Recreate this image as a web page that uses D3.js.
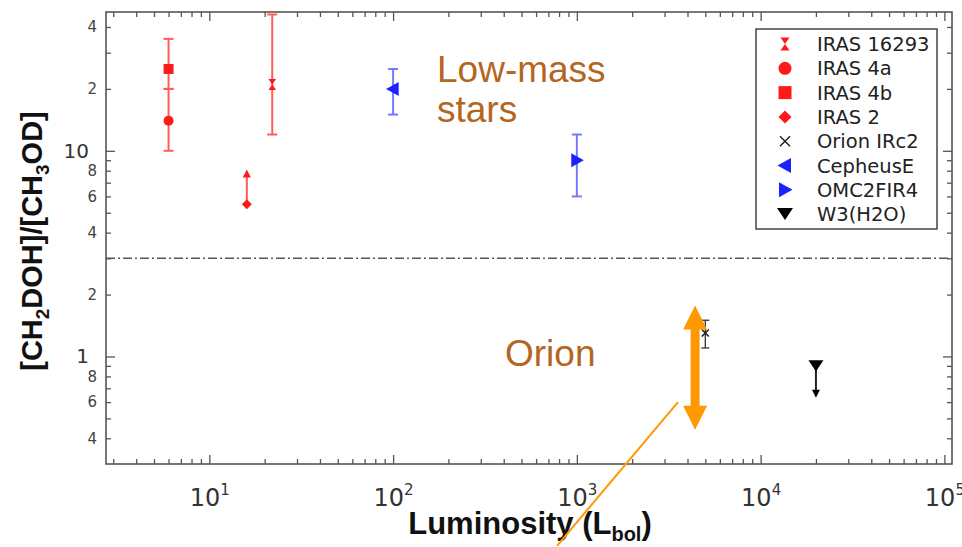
<!DOCTYPE html>
<html>
<head>
<meta charset="utf-8">
<script src="https://cdn.jsdelivr.net/npm/d3@7"></script>
<style>
  body { margin: 0; background: #fff; }
  svg { display: block; }
</style>
</head>
<body>
<div id="chart"></div>
<script>
// sources and values
const sources = ["IRAS 16293", "IRAS 4a", "IRAS 4b", "IRAS 2", "Orion IRc2", "CepheusE", "OMC2FIR4", "W3(H2O)"];
const lbol = [22, 6, 6, 16, 5000, 100, 1000, 20000];
const ratio = [21, 14, 25, 5.5, 1.3, 20, 9, 0.9];
const errLow = [12, 10, 20, null, 1.1, 15, 6, null];
const errHigh = [46, 20, 35, null, 1.5, 25, 12, null];
const limitTo = [null, null, null, 8.1, null, null, null, 0.63]; // lower / upper limit arrows

// orange annotation (Orion range + pointer)
const orionRange = [4400, 0.44, 1.77];           // L, low, high
const pointerLine = [[780, 0.12], [3550, 0.6]];

const thresholdRatio = 3;
const xMajor = [10, 100, 1000, 10000, 100000];
const yMajor = [1, 10];
const yLabeled = [0.4, 0.6, 0.8, 2, 4, 6, 8, 20, 40];

// styles
const shapes = ["hourglass", "circle", "square", "diamond", "times", "left", "right", "down"];
const fillColor = ["#ff1a1a", "#ff1a1a", "#ff1a1a", "#ff1a1a", "#222", "#1a22ff", "#1a22ff", "#000"];
const barColor = ["#ff5c5c", "#ff5c5c", "#ff5c5c", "#ff5c5c", "#333", "#7777ff", "#7777ff", "#222"];

const width = 962, height = 547;
const m = { left: 106, right: 952, top: 12, bottom: 464 };
const orange = "#ff9900";
const annColor = "#b4661f";
const axisColor = "#555";

const svg = d3.select("#chart").append("svg")
  .attr("width", width)
  .attr("height", height);

const x = d3.scaleLog().domain([2.74, 1.1e5]).range([m.left, m.right]);
const y = d3.scaleLog().domain([0.3, 47.3]).range([m.bottom, m.top]);

// all minor tick values
const minorX = [], minorY = [];
for (let e = 0; e <= 5; e++) for (let k = 2; k <= 9; k++) {
  const v = k * Math.pow(10, e);
  if (v > x.domain()[0] && v < x.domain()[1]) minorX.push(v);
}
for (let e = -1; e <= 1; e++) for (let k = 1; k <= 9; k++) {
  const v = +(k * Math.pow(10, e)).toPrecision(6);
  if (v > y.domain()[0] && v < y.domain()[1] && !yMajor.includes(v)) minorY.push(v);
}

const tickStyle = g => {
  g.select(".domain").remove();
  g.selectAll(".tick line").attr("stroke", axisColor).attr("stroke-width", 1.3);
};

// frame
svg.append("rect")
  .attr("x", m.left).attr("y", m.top)
  .attr("width", m.right - m.left).attr("height", m.bottom - m.top)
  .attr("fill", "none").attr("stroke", axisColor).attr("stroke-width", 1.6);

// bottom axis
svg.append("g").attr("transform", `translate(0,${m.bottom})`)
  .call(d3.axisBottom(x).tickValues(minorX).tickSize(-5).tickFormat(""))
  .call(tickStyle);
svg.append("g").attr("transform", `translate(0,${m.bottom})`)
  .call(d3.axisBottom(x).tickValues(xMajor).tickSize(-9))
  .call(tickStyle)
  .call(g => g.selectAll(".tick text").each(function(d) {
    const t = d3.select(this).text(null)
      .attr("y", 42).attr("dy", null)
      .attr("fill", "#333")
      .style("font-family", "'DejaVu Sans', sans-serif")
      .style("font-size", "24px");
    t.append("tspan").text("10");
    t.append("tspan").attr("dy", -11).style("font-size", "15px").text(Math.round(Math.log10(d)));
  }));

// top axis (ticks only)
svg.append("g").attr("transform", `translate(0,${m.top})`)
  .call(d3.axisTop(x).tickValues(minorX).tickSize(-5).tickFormat(""))
  .call(tickStyle);
svg.append("g").attr("transform", `translate(0,${m.top})`)
  .call(d3.axisTop(x).tickValues(xMajor).tickSize(-9).tickFormat(""))
  .call(tickStyle);

// left axis
const leadDigit = d => String(Math.round(d / Math.pow(10, Math.floor(Math.log10(d) + 1e-9))));
svg.append("g").attr("transform", `translate(${m.left},0)`)
  .call(d3.axisLeft(y).tickValues(minorY).tickSize(-5).tickPadding(9)
    .tickFormat(d => yLabeled.includes(d) ? leadDigit(d) : ""))
  .call(tickStyle)
  .call(g => g.selectAll(".tick text")
    .attr("fill", "#444")
    .style("font-family", "'DejaVu Sans', sans-serif")
    .style("font-size", "15px"));
svg.append("g").attr("transform", `translate(${m.left},0)`)
  .call(d3.axisLeft(y).tickValues(yMajor).tickSize(-9).tickPadding(17).tickFormat(d3.format("d")))
  .call(tickStyle)
  .call(g => g.selectAll(".tick text")
    .attr("fill", "#333")
    .style("font-family", "'DejaVu Sans', sans-serif")
    .style("font-size", "20px"));

// right axis (ticks only)
svg.append("g").attr("transform", `translate(${m.right},0)`)
  .call(d3.axisRight(y).tickValues(minorY).tickSize(-5).tickFormat(""))
  .call(tickStyle);
svg.append("g").attr("transform", `translate(${m.right},0)`)
  .call(d3.axisRight(y).tickValues(yMajor).tickSize(-9).tickFormat(""))
  .call(tickStyle);

// dash-dot separator
svg.append("line")
  .attr("x1", m.left).attr("x2", m.right)
  .attr("y1", y(thresholdRatio)).attr("y2", y(thresholdRatio))
  .attr("stroke", "#555").attr("stroke-width", 1.5)
  .attr("stroke-dasharray", "9,3,2,3");

// axis titles
const yTitle = svg.append("text")
  .attr("transform", "translate(42,241) rotate(-90)")
  .attr("text-anchor", "middle")
  .style("font-family", "'Liberation Sans', Arial, sans-serif")
  .style("font-weight", "bold")
  .style("font-size", "29px")
  .attr("fill", "#111");
yTitle.append("tspan").text("[CH");
yTitle.append("tspan").attr("dy", 7).style("font-size", "19px").text("2");
yTitle.append("tspan").attr("dy", -7).text("DOH]/[CH");
yTitle.append("tspan").attr("dy", 7).style("font-size", "19px").text("3");
yTitle.append("tspan").attr("dy", -7).text("OD]");

const xTitle = svg.append("text")
  .attr("x", 530).attr("y", 534)
  .attr("text-anchor", "middle")
  .style("font-family", "'Liberation Sans', Arial, sans-serif")
  .style("font-weight", "bold")
  .style("font-size", "31px")
  .attr("fill", "#111");
xTitle.append("tspan").text("Luminosity (L");
xTitle.append("tspan").attr("dy", 7).style("font-size", "20px").text("bol");
xTitle.append("tspan").attr("dy", -7).text(")");

// marker paths
function markerPath(shape, s) {
  switch (shape) {
    case "circle": return `M${-s},0A${s},${s} 0 1,0 ${s},0A${s},${s} 0 1,0 ${-s},0Z`;
    case "square": return `M${-s},${-s}H${s}V${s}H${-s}Z`;
    case "diamond": return `M0,${-s}L${s},0L0,${s}L${-s},0Z`;
    case "left": return `M${-s},0L${s * 0.8},${-s}L${s * 0.8},${s}Z`;
    case "right": return `M${s},0L${-s * 0.8},${-s}L${-s * 0.8},${s}Z`;
    case "down": return `M${-s},${-s * 0.75}L${s},${-s * 0.75}L0,${s * 0.75}Z`;
    case "hourglass": return `M${-s * 0.7},${-s}L${s * 0.7},${-s}L0,0ZM${-s * 0.7},${s}L${s * 0.7},${s}L0,0Z`;
    case "times": return `M${-s},${-s}L${s},${s}M${-s},${s}L${s},${-s}`;
  }
}
const markerSize = { circle: 5, square: 5, diamond: 5, left: 7, right: 7, down: 7.5, hourglass: 5.5, times: 3.5 };

const idx = d3.range(sources.length);
const plot = svg.append("g");

// error bars
const withErr = idx.filter(i => errLow[i] != null);
plot.selectAll(".err").data(withErr).join("g")
  .attr("class", "err")
  .attr("stroke", i => barColor[i])
  .attr("stroke-width", i => shapes[i] === "times" ? 1.3 : 2)
  .each(function(i) {
    const g = d3.select(this);
    const cx = x(lbol[i]);
    const cap = shapes[i] === "times" ? 4 : 5;
    g.append("line").attr("x1", cx).attr("x2", cx).attr("y1", y(errLow[i])).attr("y2", y(errHigh[i]));
    g.append("line").attr("x1", cx - cap).attr("x2", cx + cap).attr("y1", y(errLow[i])).attr("y2", y(errLow[i]));
    g.append("line").attr("x1", cx - cap).attr("x2", cx + cap).attr("y1", y(errHigh[i])).attr("y2", y(errHigh[i]));
  });

// limit arrows
const withLim = idx.filter(i => limitTo[i] != null);
plot.selectAll(".lim").data(withLim).join("g")
  .attr("class", "lim")
  .each(function(i) {
    const g = d3.select(this);
    const cx = x(lbol[i]);
    const y0 = y(ratio[i]), y1 = y(limitTo[i]);
    const dir = y1 < y0 ? 1 : -1; // 1 = arrow points up
    g.append("line").attr("x1", cx).attr("x2", cx).attr("y1", y0).attr("y2", y1 + dir * 6)
      .attr("stroke", barColor[i]).attr("stroke-width", 2);
    g.append("path")
      .attr("d", `M${cx},${y1}L${cx - 4},${y1 + dir * 8}L${cx + 4},${y1 + dir * 8}Z`)
      .attr("fill", fillColor[i]);
  });

// markers
plot.selectAll(".mk").data(idx).join("path")
  .attr("class", "mk")
  .attr("transform", i => `translate(${x(lbol[i])},${y(ratio[i])})`)
  .attr("d", i => markerPath(shapes[i], markerSize[shapes[i]]))
  .attr("fill", i => shapes[i] === "times" ? "none" : fillColor[i])
  .attr("stroke", i => shapes[i] === "times" ? fillColor[i] : "none")
  .attr("stroke-width", 1.6);

// orange double arrow for Orion
const ax = x(orionRange[0]), aTop = y(orionRange[2]), aBot = y(orionRange[1]);
const sw = 4.5, hw = 12, hh = 24;
svg.append("path")
  .attr("d", `M${ax},${aTop}L${ax + hw},${aTop + hh}L${ax + sw},${aTop + hh}L${ax + sw},${aBot - hh}` +
             `L${ax + hw},${aBot - hh}L${ax},${aBot}L${ax - hw},${aBot - hh}L${ax - sw},${aBot - hh}` +
             `L${ax - sw},${aTop + hh}L${ax - hw},${aTop + hh}Z`)
  .attr("fill", orange);

svg.append("line")
  .attr("x1", x(pointerLine[0][0])).attr("y1", y(pointerLine[0][1]))
  .attr("x2", x(pointerLine[1][0])).attr("y2", y(pointerLine[1][1]))
  .attr("stroke", orange).attr("stroke-width", 2);

// region labels
const ann = svg.append("g")
  .style("font-family", "'Liberation Sans', Arial, sans-serif")
  .style("font-size", "37px")
  .attr("fill", annColor);
ann.append("text").attr("x", 437).attr("y", 82).text("Low-mass");
ann.append("text").attr("x", 437).attr("y", 122).text("stars");
ann.append("text").attr("x", 505).attr("y", 366).text("Orion");

// legend
const legend = svg.append("g");
legend.append("rect")
  .attr("x", 756).attr("y", 29).attr("width", 181).attr("height", 200)
  .attr("fill", "#fff").attr("stroke", "#444").attr("stroke-width", 1.5);
const legendSize = { circle: 6.5, square: 6.5, diamond: 6.5, left: 7.5, right: 7.5, down: 8, hourglass: 6.5, times: 5 };
const rows = legend.selectAll(".row").data(idx).join("g")
  .attr("class", "row")
  .attr("transform", i => `translate(785,${44 + i * 24.3})`);
rows.append("path")
  .attr("d", i => markerPath(shapes[i], legendSize[shapes[i]]))
  .attr("fill", i => shapes[i] === "times" ? "none" : fillColor[i])
  .attr("stroke", i => shapes[i] === "times" ? fillColor[i] : "none")
  .attr("stroke-width", 1.5);
rows.append("text")
  .attr("x", 32).attr("y", 7)
  .style("font-family", "'DejaVu Sans', sans-serif")
  .style("font-size", "19.5px")
  .attr("fill", "#222")
  .text(i => sources[i]);
</script>
</body>
</html>
